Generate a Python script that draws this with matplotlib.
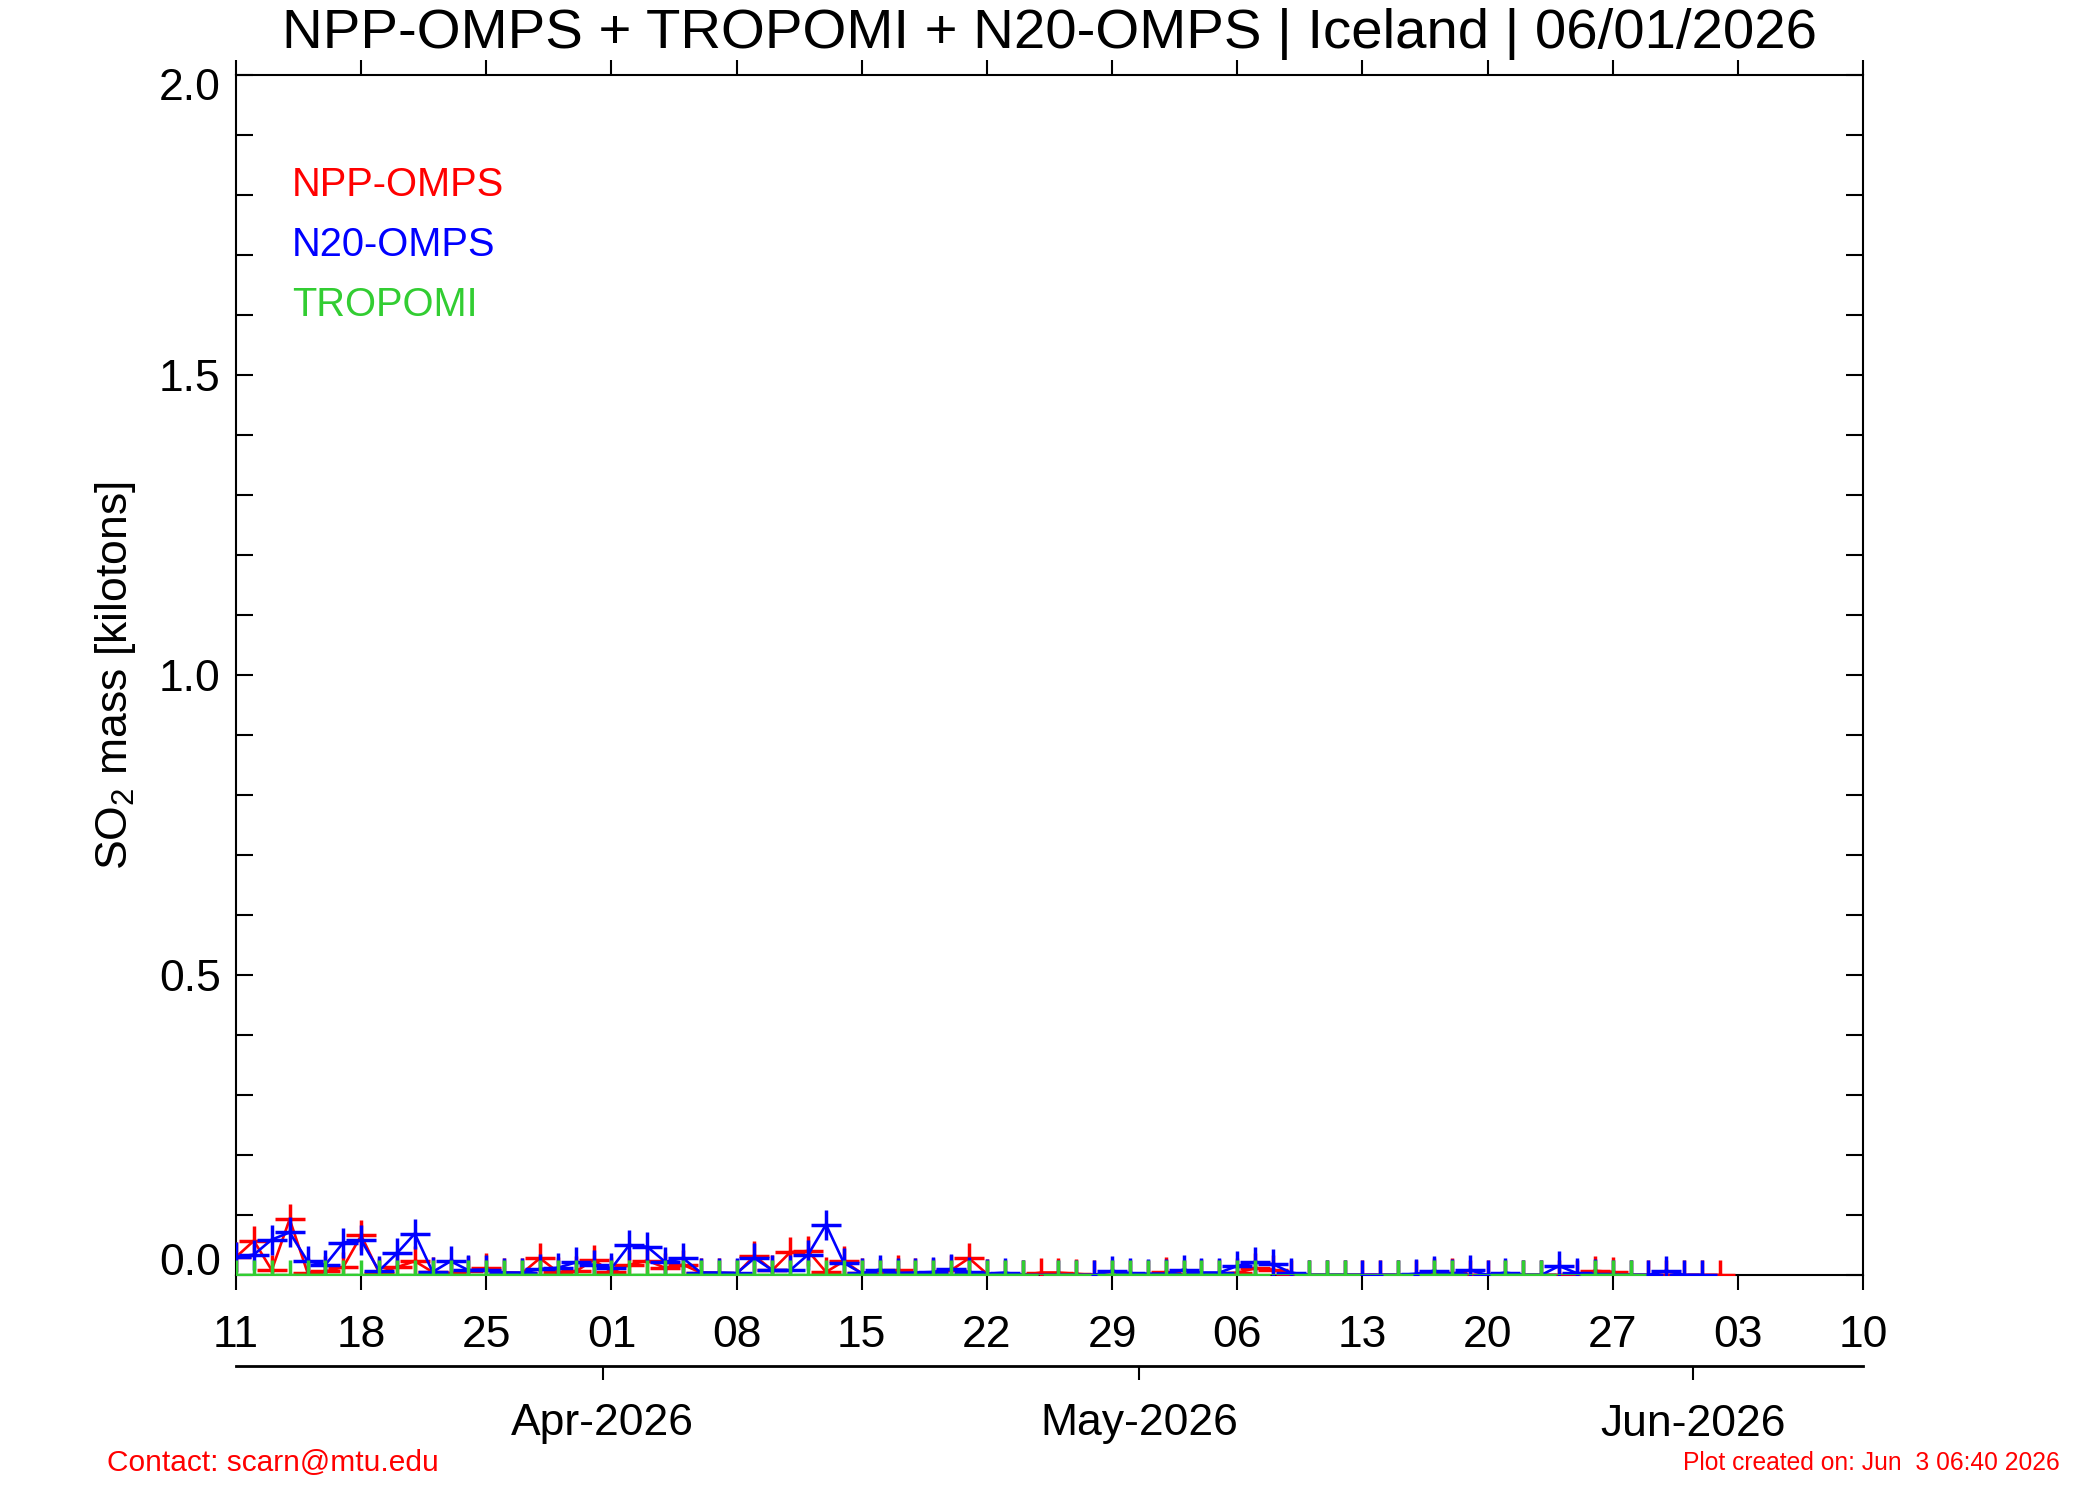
import numpy as np
import pandas as pd
import matplotlib
matplotlib.use('Agg')
import matplotlib.pyplot as plt
import matplotlib.dates as mdates
import matplotlib.transforms as mtransforms
from matplotlib.ticker import MultipleLocator, FixedLocator, NullLocator

plt.rcParams['font.family'] = ['Liberation Sans', 'DejaVu Sans']
plt.rcParams['mathtext.fontset'] = 'custom'
plt.rcParams['mathtext.rm'] = 'Liberation Sans'

# ---------------- data ----------------
base_date = pd.Timestamp('2026-03-11 12:00')
axis_end = pd.Timestamp('2026-06-10 12:00')

npp_day = list(range(0, 84))
npp_val = [0.030, 0.057, 0.008, 0.093, 0.004, 0.006, 0.013, 0.066, 0.004, 0.013,
           0.023, 0.005, 0.003, 0.007, 0.011, 0.004, 0.003, 0.028, 0.005, 0.006,
           0.025, 0.005, 0.017, 0.024, 0.012, 0.017, 0.004, 0.003, 0.002, 0.032,
           0.008, 0.038, 0.040, 0.005, 0.023, 0.003, 0.002, 0.008, 0.003, 0.004,
           0.008, 0.028, 0.002, 0.000, 0.000, 0.004, 0.004, 0.002, 0.000, 0.000,
           0.000, 0.000, 0.005, 0.000, 0.002, 0.002, 0.004, 0.011, 0.009, 0.000,
           0.000, 0.000, 0.000, 0.000, 0.000, 0.000, 0.000, 0.004, 0.003, 0.000,
           0.000, 0.000, 0.000, 0.000, 0.000, 0.000, 0.007, 0.005, 0.000, 0.000,
           0.000, 0.000, 0.000, 0.000]

n20_day = list(range(0, 45)) + list(range(46, 83))
n20_val = [0.030, 0.034, 0.059, 0.071, 0.023, 0.017, 0.054, 0.058, 0.007, 0.036,
           0.069, 0.005, 0.023, 0.008, 0.009, 0.004, 0.004, 0.010, 0.012, 0.021,
           0.017, 0.011, 0.050, 0.047, 0.022, 0.028, 0.004, 0.004, 0.003, 0.028,
           0.008, 0.008, 0.034, 0.084, 0.020, 0.003, 0.009, 0.003, 0.004, 0.005,
           0.010, 0.005, 0.002, 0.004, 0.000,
           0.000, 0.000, 0.000, 0.007, 0.003, 0.002, 0.002, 0.009, 0.004, 0.004,
           0.015, 0.021, 0.018, 0.004, 0.000, 0.000, 0.000, 0.000, 0.000, 0.000,
           0.002, 0.007, 0.002, 0.008, 0.000, 0.004, 0.000, 0.000, 0.015, 0.003,
           0.001, 0.000, 0.000, 0.000, 0.007, 0.000, 0.000]

tropomi_missing = [45, 48, 58, 59, 63, 64, 66, 69, 70, 74, 75]
tropomi_day = [d for d in range(0, 79) if d not in tropomi_missing]
tropomi_val = [0.0] * len(tropomi_day)

week_labels = ['11', '18', '25', '01', '08', '15', '22', '29', '06', '13', '20', '27', '03', '10']
month_starts = ['2026-04-01', '2026-05-01', '2026-06-01']
month_labels = ['Apr-2026', 'May-2026', 'Jun-2026']
ytick_vals = [0.0, 0.5, 1.0, 1.5, 2.0]
ytick_labels = ['0.0', '0.5', '1.0', '1.5', '2.0']

title = 'NPP-OMPS + TROPOMI + N20-OMPS | Iceland | 06/01/2026'

RED = '#FF0000'
BLUE = '#0000FF'
GREEN = '#32CD32'


def to_num(days):
    return mdates.date2num([base_date + pd.Timedelta(days=d) for d in days])


# ---------------- figure ----------------
W, H = 2100, 1500
fig = plt.figure(figsize=(W / 100, H / 100), dpi=100)
ax_l, ax_r, ax_t, ax_b = 236, 1863, 75, 1275
ax = fig.add_axes([ax_l / W, 1 - ax_b / H, (ax_r - ax_l) / W, (ax_b - ax_t) / H])

x0 = mdates.date2num(base_date)
x1 = mdates.date2num(axis_end)
ax.set_xlim(x0, x1)
ax.set_ylim(0, 2.0)

kw = dict(marker='+', markersize=21, markeredgewidth=2.5, linewidth=1.9)
ax.plot(to_num(npp_day), npp_val, color=RED, zorder=3, **kw)
ax.plot(to_num(n20_day), n20_val, color=BLUE, zorder=4, **kw)
ax.plot(to_num(tropomi_day), tropomi_val, color=GREEN, zorder=5, **kw)

# spines
for s in ax.spines.values():
    s.set_linewidth(1.5)
    s.set_color('black')

# x ticks (weekly)
week_pos = to_num(range(0, 92, 7))
ax.xaxis.set_major_locator(FixedLocator(week_pos))
ax.set_xticklabels(week_labels)
ax.xaxis.set_minor_locator(NullLocator())
ax.tick_params(axis='x', which='major', direction='out', top=True, bottom=True,
               length=11, width=1.5, labelsize=32, pad=17.5)

# y ticks
ax.yaxis.set_major_locator(FixedLocator(ytick_vals))
ax.set_yticklabels(ytick_labels)
ax.yaxis.set_minor_locator(MultipleLocator(0.1))
ax.tick_params(axis='y', which='both', direction='in', left=True, right=True,
               width=1.5, labelsize=32, pad=11)
ax.tick_params(axis='y', which='major', length=12)
ax.tick_params(axis='y', which='minor', length=12)
ylabs = ax.get_yticklabels()
ylabs[0].set_verticalalignment('baseline')
ylabs[-1].set_transform(ylabs[-1].get_transform() +
                        mtransforms.ScaledTranslation(0, -9 / 100, fig.dpi_scale_trans))

# month axis below
month_pos = mdates.date2num([pd.Timestamp(m) for m in month_starts])
sec = ax.secondary_xaxis((ax_b - 1366) / (ax_b - ax_t))
sec.set_xticks(month_pos)
sec.set_xticklabels(month_labels)
sec.xaxis.set_minor_locator(NullLocator())
sec.tick_params(axis='x', direction='out', length=10, width=1.5, labelsize=32, pad=17)
for s in sec.spines.values():
    s.set_linewidth(2.0)

# legend texts
ax.text(0.0344, 0.9084, 'NPP-OMPS', color=RED, fontsize=28.7, transform=ax.transAxes,
        ha='left', va='center')
ax.text(0.0344, 0.8584, 'N20-OMPS', color=BLUE, fontsize=28.7, transform=ax.transAxes,
        ha='left', va='center')
ax.text(0.0344, 0.8084, 'TROPOMI', color=GREEN, fontsize=28.7, transform=ax.transAxes,
        ha='left', va='center')

# labels
fig.text(115 / W, 1 - 676 / H, r'SO$_\mathregular{2}$ mass [kilotons]', rotation=90,
         ha='center', va='center', fontsize=32)
fig.text(0.5, 1 - 34 / H, title, ha='center', va='center', fontsize=40.6)
fig.text(107 / W, 1 - 1463 / H, 'Contact: scarn@mtu.edu', color=RED, fontsize=21.5,
         ha='left', va='center')
fig.text(2060 / W, 1 - 1463 / H, 'Plot created on: Jun  3 06:40 2026', color=RED,
         fontsize=17.75, ha='right', va='center')

fig.savefig('out.png', dpi=100)
